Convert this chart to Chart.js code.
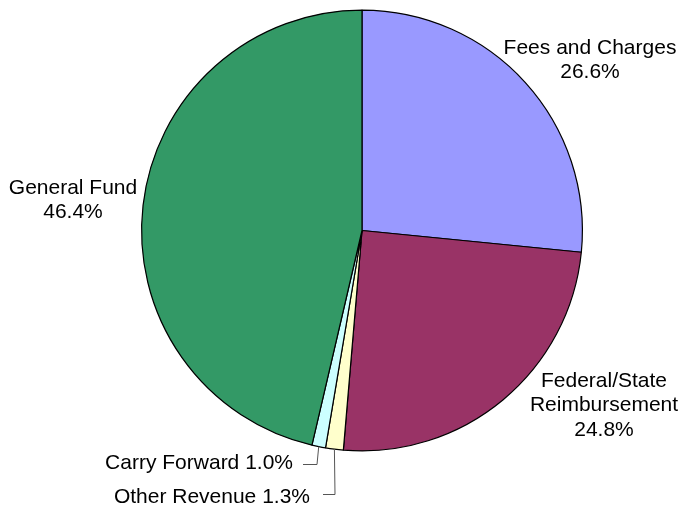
<!DOCTYPE html>
<html>
<head>
<meta charset="utf-8">
<title>Revenue Sources</title>
<script src="https://cdn.jsdelivr.net/npm/chart.js@4/dist/chart.umd.min.js"></script>
<style>
    html, body { margin: 0; padding: 0; background: #fff; }
    #wrap { width: 683px; height: 510px; position: relative; }
</style>
</head>
<body>
<div id="wrap"><canvas id="pieChart"></canvas></div>
<script>
// Revenue sources, clockwise from 12 o'clock
const sources = ['Fees and Charges', 'Federal/State Reimbursement', 'Other Revenue', 'Carry Forward', 'General Fund'];
const shares = [26.6, 24.8, 1.3, 1.0, 46.4];
const sliceColors = ['#9999FF', '#993366', '#FFFFCC', '#CCFFFF', '#339966'];

const labelFont = '21px "Liberation Sans", Arial, sans-serif';
const lineHeight = 24.5;

// Where each label sits, as offsets from the pie centre.
// lines: how the name is wrapped; leader: small slices get a callout line.
const labelLayout = [
    { dx: 228, dy: -177, lines: ['Fees and Charges'] },
    { dx: 242, dy: 156, lines: ['Federal/State', 'Reimbursement'] },
    { dx: -52, dy: 272, inline: true, leader: { y: 264, x0: -39, x1: -27 } },
    { dx: -69, dy: 238, inline: true, leader: { y: 234, x0: -59, x1: -45 } },
    { dx: -289, dy: -37, lines: ['General Fund'] }
];

const pieLabels = {
    id: 'pieLabels',
    afterDraw(chart) {
        const ctx = chart.ctx;
        const meta = chart.getDatasetMeta(0);
        ctx.save();
        ctx.font = labelFont;
        ctx.fillStyle = '#000';
        ctx.textBaseline = 'alphabetic';

        meta.data.forEach(function(arc, i) {
            const cx = arc.x, cy = arc.y;
            const pct = shares[i].toFixed(1) + '%';
            const lay = labelLayout[i];

            if (lay.inline) {
                // leader from the arc's outer edge down, then across to the text
                const mid = (arc.startAngle + arc.endAngle) / 2;
                const ex = cx + Math.cos(mid) * arc.outerRadius;
                const ey = cy + Math.sin(mid) * arc.outerRadius;
                ctx.strokeStyle = '#555';
                ctx.lineWidth = 1;
                ctx.beginPath();
                ctx.moveTo(ex, ey);
                ctx.lineTo(cx + lay.leader.x1, cy + lay.leader.y);
                ctx.lineTo(cx + lay.leader.x0, cy + lay.leader.y);
                ctx.stroke();

                ctx.textAlign = 'right';
                ctx.fillText(sources[i] + ' ' + pct, cx + lay.dx, cy + lay.dy);
            } else {
                ctx.textAlign = 'center';
                const rows = lay.lines.concat([pct]);
                rows.forEach(function(t, k) {
                    ctx.fillText(t, cx + lay.dx, cy + lay.dy + k * lineHeight);
                });
            }
        });
        ctx.restore();
    }
};

const pieChart = new Chart(document.getElementById('pieChart').getContext('2d'), {
    type: 'pie',
    data: {
        labels: sources,
        datasets: [{
            data: shares,
            backgroundColor: sliceColors,
            borderColor: '#000',
            borderWidth: 1.2,
            hoverOffset: 0
        }]
    },
    options: {
        responsive: true,
        maintainAspectRatio: false,
        animation: false,
        layout: {
            padding: { left: 141, right: 100, top: 9, bottom: 58 }
        },
        plugins: {
            legend: { display: false },
            tooltip: { enabled: false }
        }
    },
    plugins: [pieLabels]
});
</script>
</body>
</html>
